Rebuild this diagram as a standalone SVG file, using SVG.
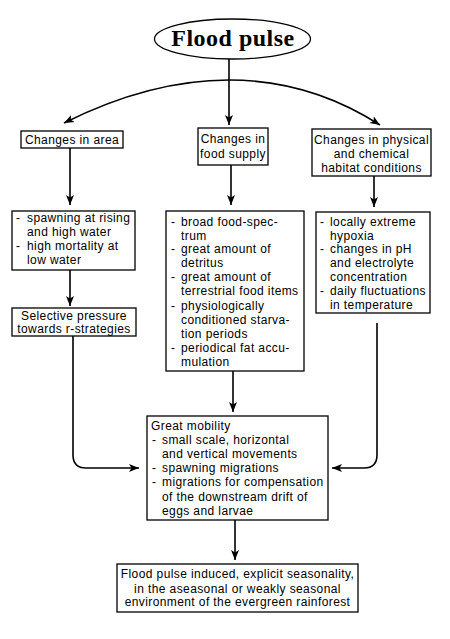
<svg xmlns="http://www.w3.org/2000/svg" width="450" height="639" viewBox="0 0 450 639">
<defs>
<marker id="ah" viewBox="0 0 10 10" refX="10" refY="5" markerWidth="10" markerHeight="10" markerUnits="userSpaceOnUse" orient="auto">
<path d="M0,1 L10,5 L0,9 L2.5,5 Z" fill="#000"/>
</marker>
<style>
.box{fill:#fff;stroke:#000;stroke-width:1.3}
.t{font-family:"Liberation Sans",Arial,sans-serif;font-size:12px;letter-spacing:0.4px;fill:#000}
.c{text-anchor:middle}
.ln{fill:none;stroke:#000;stroke-width:1.6}
</style>
</defs>
<rect width="450" height="639" fill="#fff"/>
<g id="flood-pulse">
<ellipse cx="232.5" cy="39" rx="78" ry="20" class="box"/>
<text x="233" y="46" text-anchor="middle" font-family="'Liberation Serif','Times New Roman',serif" font-weight="bold" font-size="24" letter-spacing="0.5">Flood pulse</text>
</g>
<g id="connectors">
<path class="ln" d="M229,59 V125" marker-end="url(#ah)"/>
<path class="ln" d="M229,80 Q150,80 64,123" marker-end="url(#ah)"/>
<path class="ln" d="M229,80 Q310,80 380,125" marker-end="url(#ah)"/>
<path class="ln" d="M70,148 V205" marker-end="url(#ah)"/>
<path class="ln" d="M231,165 V205" marker-end="url(#ah)"/>
<path class="ln" d="M374,176 V207" marker-end="url(#ah)"/>
<path class="ln" d="M70,270 V306" marker-end="url(#ah)"/>
<path class="ln" d="M73,336 V455 Q73,468 86,468 H139" marker-end="url(#ah)"/>
<path class="ln" d="M233,371 V412" marker-end="url(#ah)"/>
<path class="ln" d="M377,323 V455 Q377,468 364,468 H332" marker-end="url(#ah)"/>
<path class="ln" d="M235,520 V560" marker-end="url(#ah)"/>
</g>
<g id="changes-area">
<rect x="21" y="131" width="102" height="17" class="box"/>
<text x="72" y="144" class="t c">Changes in area</text>
</g>
<g id="changes-food">
<rect x="198" y="128" width="70" height="37" class="box"/>
<text x="233" y="143" class="t c">Changes in</text>
<text x="233" y="158" class="t c">food supply</text>
</g>
<g id="changes-physical">
<rect x="312" y="129" width="119" height="47" class="box"/>
<text x="371.5" y="144" class="t c">Changes in physical</text>
<text x="371.5" y="158" class="t c">and chemical</text>
<text x="371.5" y="172" class="t c">habitat conditions</text>
</g>
<g id="spawning">
<rect x="12" y="211" width="123" height="59" class="box"/>
<text class="t"><tspan x="16" y="222">-</tspan><tspan x="27" y="222">spawning at rising</tspan><tspan x="27" y="236">and high water</tspan><tspan x="16" y="250">-</tspan><tspan x="27" y="250">high mortality at</tspan><tspan x="27" y="264">low water</tspan></text>
</g>
<g id="selective">
<rect x="12" y="308" width="124" height="28" class="box"/>
<text x="74" y="320" class="t c">Selective pressure</text>
<text x="74" y="333" class="t c">towards r-strategies</text>
</g>
<g id="food-list">
<rect x="166" y="211" width="138" height="160" class="box"/>
<text class="t"><tspan x="171" y="226">-</tspan><tspan x="181" y="226">broad food-spec-</tspan><tspan x="181" y="240">trum</tspan><tspan x="171" y="253">-</tspan><tspan x="181" y="253">great amount of</tspan><tspan x="181" y="267">detritus</tspan><tspan x="171" y="281">-</tspan><tspan x="181" y="281">great amount of</tspan><tspan x="181" y="295">terrestrial food items</tspan><tspan x="171" y="310">-</tspan><tspan x="181" y="310">physiologically</tspan><tspan x="181" y="324">conditioned starva-</tspan><tspan x="181" y="338">tion periods</tspan><tspan x="171" y="352">-</tspan><tspan x="181" y="352">periodical fat accu-</tspan><tspan x="181" y="366">mulation</tspan></text>
</g>
<g id="physical-list">
<rect x="316" y="212" width="114" height="101" class="box"/>
<text class="t"><tspan x="320" y="226">-</tspan><tspan x="330" y="226">locally extreme</tspan><tspan x="330" y="240">hypoxia</tspan><tspan x="320" y="253">-</tspan><tspan x="330" y="253">changes in pH</tspan><tspan x="330" y="267">and electrolyte</tspan><tspan x="330" y="281">concentration</tspan><tspan x="320" y="295">-</tspan><tspan x="330" y="295">daily fluctuations</tspan><tspan x="330" y="309">in temperature</tspan></text>
</g>
<g id="great-mobility">
<rect x="147" y="416" width="181" height="104" class="box"/>
<text class="t"><tspan x="151" y="430">Great mobility</tspan><tspan x="152" y="444">-</tspan><tspan x="162" y="444">small scale, horizontal</tspan><tspan x="162" y="458">and vertical movements</tspan><tspan x="152" y="472">-</tspan><tspan x="162" y="472">spawning migrations</tspan><tspan x="152" y="486">-</tspan><tspan x="162" y="486">migrations for compensation</tspan><tspan x="162" y="501">of the downstream drift of</tspan><tspan x="162" y="515">eggs and larvae</tspan></text>
</g>
<g id="seasonality">
<rect x="117" y="564" width="241" height="48" class="box"/>
<text x="237.5" y="578" class="t c">Flood pulse induced, explicit seasonality,</text>
<text x="237.5" y="593" class="t c">in the aseasonal or weakly seasonal</text>
<text x="237.5" y="606" class="t c">environment of the evergreen rainforest</text>
</g>
</svg>
